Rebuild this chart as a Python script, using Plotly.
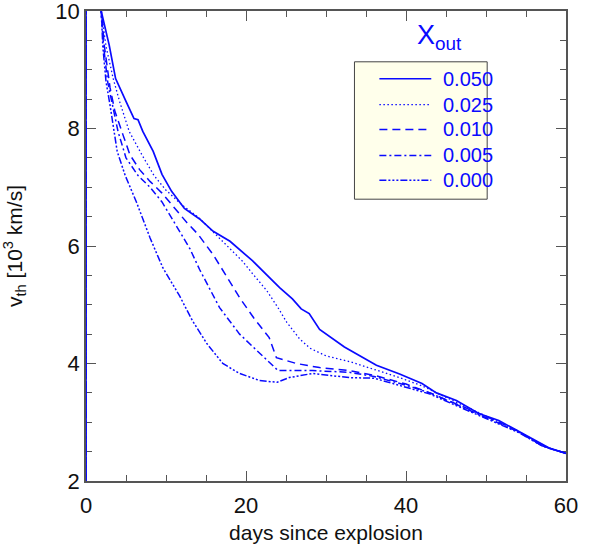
import plotly.graph_objects as go

# ---- data ----
labels = ["0.050", "0.025", "0.010", "0.005", "0.000"]

days_050 = [0, 0, 1.6, 1.9, 2.9, 3.7, 5.0, 6.0, 6.5, 7.1, 8.4, 9.5, 10.7, 12.3, 14.2, 15.9, 18.0, 20.8,
            24.2, 25.8, 26.9, 27.9, 29.2, 32.3, 36.3, 39.2, 42.0, 43.8, 46.3, 49.1, 51.6, 56.2, 57.9, 60.0]
v_050 = [0, 15, 10.5, 10.0, 9.42, 8.85, 8.46, 8.17, 8.15, 7.95, 7.61, 7.22, 6.93, 6.64, 6.46, 6.25, 6.08, 5.75,
         5.29, 5.10, 4.93, 4.85, 4.58, 4.28, 3.97, 3.82, 3.66, 3.50, 3.37, 3.15, 3.03, 2.69, 2.56, 2.47]

days_025 = [0, 0, 1.6, 1.9, 2.5, 3.4, 4.2, 5.4, 7.0, 8.5, 10.0, 12.0, 14.2, 16.0, 18.0, 19.5, 21.0, 22.6,
            24.0, 25.1, 26.7, 28.0, 30.0, 33.0, 36.0, 39.2, 42.0, 43.3, 46.0, 49.0, 52.0, 56.0, 58.0, 60.0]
v_025 = [0, 15, 10.5, 10.0, 9.40, 8.85, 8.46, 7.95, 7.55, 7.20, 6.95, 6.70, 6.47, 6.22, 5.95, 5.75, 5.50, 5.24,
         4.95, 4.70, 4.42, 4.26, 4.13, 4.03, 3.90, 3.76, 3.62, 3.54, 3.36, 3.17, 2.98, 2.70, 2.55, 2.47]

days_010 = [0, 0, 1.6, 1.9, 2.3, 3.0, 3.6, 4.6, 5.5, 6.7, 8.0, 9.5, 11.0, 12.6, 14.0, 15.9, 17.5, 19.2,
            21.0, 22.9, 23.8, 25.0, 26.3, 29.2, 32.9, 36.0, 40.0, 43.0, 46.0, 50.0, 54.0, 57.0, 60.0]
v_010 = [0, 15, 10.5, 10.0, 9.40, 8.70, 8.30, 7.90, 7.55, 7.30, 7.10, 6.90, 6.65, 6.40, 6.20, 5.85, 5.50, 5.12,
         4.77, 4.44, 4.10, 4.05, 4.00, 3.93, 3.88, 3.80, 3.65, 3.50, 3.33, 3.10, 2.85, 2.60, 2.47]

days_005 = [0, 0, 1.6, 1.9, 2.2, 2.7, 3.3, 4.0, 5.0, 6.5, 8.0, 9.5, 11.7, 13.0, 14.2, 16.7, 19.2, 21.7,
            23.6, 24.0, 28.3, 32.9, 36.0, 40.0, 43.0, 46.0, 50.0, 54.0, 57.0, 60.0]
v_005 = [0, 15, 10.5, 10.0, 9.40, 8.80, 8.40, 7.95, 7.50, 7.20, 7.00, 6.75, 6.25, 5.95, 5.60, 4.95, 4.50, 4.17,
         3.92, 3.88, 3.88, 3.85, 3.78, 3.63, 3.50, 3.32, 3.08, 2.84, 2.60, 2.47]

days_000 = [0, 0, 1.6, 1.9, 2.1, 2.5, 3.0, 3.5, 3.9, 4.9, 6.3, 8.0, 9.6, 11.7, 13.3, 15.1, 17.1, 19.2, 21.7,
            23.9, 25.4, 28.3, 32.9, 36.0, 40.0, 43.0, 46.0, 50.0, 54.0, 57.0, 60.0]
v_000 = [0, 15, 10.5, 10.0, 9.40, 8.80, 8.40, 7.95, 7.61, 7.20, 6.75, 6.14, 5.63, 5.15, 4.73, 4.34, 4.00, 3.83, 3.71,
         3.68, 3.76, 3.83, 3.76, 3.75, 3.60, 3.48, 3.30, 3.07, 2.83, 2.60, 2.47]

x_ticks = [0, 20, 40, 60]
y_ticks = [2, 4, 6, 8, 10]

dashes = ["solid", "1.5px,2.5px", "8px,5px", "7px,3px,2px,3px", "7px,2px,2px,2px,2px,2px,2px,2px"]
widths = [1.7, 1.3, 1.5, 1.5, 1.5]
xs_all = [days_050, days_025, days_010, days_005, days_000]
ys_all = [v_050, v_025, v_010, v_005, v_000]

BLUE = "#0A0AFF"
FONT = "Liberation Sans, Arial, sans-serif"
fig = go.Figure()
for name, xs, ys, dash, w in zip(labels, xs_all, ys_all, dashes, widths):
    fig.add_trace(go.Scatter(x=xs, y=ys, mode="lines", name=name, showlegend=False,
                             line=dict(color=BLUE, width=w, dash=dash)))

axis_common = dict(
    showgrid=False, zeroline=False, showline=True, mirror="allticks",
    linecolor="#555555", linewidth=1.5,
    ticks="inside", ticklen=10, tickwidth=1.2, tickcolor="#555555",
    tickfont=dict(size=22, color="#111111", family=FONT),
    layer="below traces", automargin=False, ticklabeloverflow="allow",
)

fig.update_xaxes(range=[0, 60], tickvals=x_ticks, ticklabelstandoff=4,
                 minor=dict(dtick=5, ticks="inside", ticklen=6, tickcolor="#555555", tickwidth=1),
                 title=dict(text="days since explosion", standoff=8,
                            font=dict(size=21, color="#111111", family=FONT)),
                 **axis_common)
fig.update_yaxes(range=[2, 10], tickvals=y_ticks,
                 minor=dict(dtick=0.5, ticks="inside", ticklen=6, tickcolor="#555555", tickwidth=1),
                 title=dict(text="v<sub>th</sub> [10<sup>3</sup> km/s]", standoff=34,
                            font=dict(size=21, color="#111111", family=FONT)),
                 **axis_common)

# ---- hand-drawn legend box (paper coordinates of the plot area) ----
box = dict(x0=0.5593, x1=0.8358, y0=0.5996, y1=0.8919)
row_y = [0.8559, 0.8008, 0.7479, 0.6928, 0.6398]
shapes = [dict(type="rect", xref="paper", yref="paper", layer="above",
               fillcolor="#FFFFEB", line=dict(color="#444444", width=1), **box)]
annotations = [dict(text="X<sub>out</sub>", xref="paper", yref="paper",
                    x=0.736, y=0.945, xanchor="center", yanchor="middle",
                    showarrow=False, font=dict(size=27, color=BLUE, family=FONT))]
for lab, dash, w, yy in zip(labels, dashes, widths, row_y):
    shapes.append(dict(type="line", xref="paper", yref="paper", layer="above",
                       x0=0.6112, x1=0.7193, y0=yy, y1=yy,
                       line=dict(color=BLUE, width=w, dash=dash)))
    annotations.append(dict(text=lab, xref="paper", yref="paper", x=0.7401, y=yy,
                            xanchor="left", yanchor="middle", showarrow=False,
                            font=dict(size=20, color=BLUE, family=FONT)))

fig.update_layout(
    width=598, height=555,
    margin=dict(l=86, r=32, t=11, b=74),
    paper_bgcolor="white", plot_bgcolor="white",
    font=dict(family=FONT),
    showlegend=False,
    shapes=shapes,
    annotations=annotations,
)

# remove the browser's default 8px body margin so the figure sits at the page corner
fig.write_html("out.html", config={"displayModeBar": False},
               post_script="document.body.style.margin='0';")
